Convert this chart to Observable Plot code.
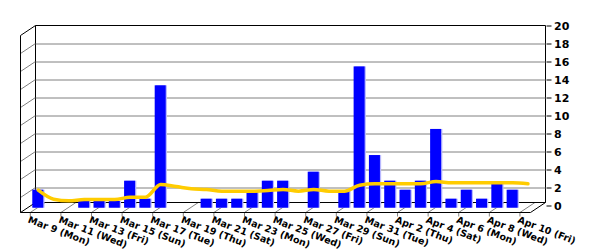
<!DOCTYPE html>
<html><head><meta charset="utf-8">
<script src="https://cdn.jsdelivr.net/npm/d3@7"></script>
<script src="https://cdn.jsdelivr.net/npm/@observablehq/plot@0.6"></script>
<style>body{margin:0;background:#fff}#chart svg{display:block}</style>
</head><body><div id="chart"></div>
<script>
// Days shown (Mar 9 .. Apr 10)
const dates = ["Mar 9","Mar 10","Mar 11","Mar 12","Mar 13","Mar 14","Mar 15","Mar 16","Mar 17","Mar 18","Mar 19",
  "Mar 20","Mar 21","Mar 22","Mar 23","Mar 24","Mar 25","Mar 26","Mar 27","Mar 28","Mar 29","Mar 30","Mar 31",
  "Apr 1","Apr 2","Apr 3","Apr 4","Apr 5","Apr 6","Apr 7","Apr 8","Apr 9","Apr 10"];
// Daily values (bars)
const counts = [2,0,0,0.75,0.75,0.75,3,1,13.6,0,0,
  1,1,1,1.75,3,3,0,4,0,1.9,15.7,5.85,
  3,2,3,8.75,1,2,1,2.7,2,0];
// Running average (yellow line)
const average = [2.0,1.0,0.82,0.97,0.97,0.97,1.22,1.22,2.63,2.41,2.16,
  2.08,1.89,1.89,1.89,1.97,2.08,1.89,2.08,1.89,1.89,2.55,2.71,
  2.71,2.71,2.71,2.97,2.82,2.82,2.82,2.82,2.82,2.71];
// Tick labels
const tickLabels = ["Mar 9 (Mon)","Mar 11 (Wed)","Mar 13 (Fri)","Mar 15 (Sun)","Mar 17 (Tue)","Mar 19 (Thu)",
  "Mar 21 (Sat)","Mar 23 (Mon)","Mar 25 (Wed)","Mar 27 (Fri)","Mar 29 (Sun)","Mar 31 (Tue)","Apr 2 (Thu)",
  "Apr 4 (Sat)","Apr 6 (Mon)","Apr 8 (Wed)","Apr 10 (Fri)"];
const yTicks = [0,2,4,6,8,10,12,14,16,18,20];

const rows = dates.map((d, i) => ({i, date: d, count: counts[i], avg: average[i]}));
const bars = rows.filter(r => r.count > 0);
const ticks = tickLabels.map(label => ({label, i: dates.indexOf(label.split(" (")[0])}));

// 3D offsets (bars/line sit mid-depth in front of the back wall)
const DX = -7.5, DY = 2.2, HALF = 0.36;
const DEPTH_X = 15, DEPTH_Y = 10;

const plot = Plot.plot({
  width: 600, height: 250,
  marginTop: 25.5, marginBottom: 44.5, marginLeft: 35.5, marginRight: 54.5,
  style: {fontFamily: "DejaVu Sans", fontWeight: "bold", fontSize: "11px", background: "#fff", overflow: "visible"},
  x: {type: "linear", domain: [-0.64, 32.69], axis: null},
  y: {domain: [0, 20], axis: "right", ticks: yTicks, tickSize: 5, tickPadding: 3, label: null},
  marks: [
    Plot.ruleY(yTicks.filter(v => v > 0 && v < 20), {stroke: "#808080", strokeWidth: 1}),
    Plot.rectY(bars, {x1: r => r.i - HALF + 0.08, x2: r => r.i + HALF + 0.08, y: "count", fill: "#b8b8ff", dx: DX, dy: DY, inset: 0}),
    Plot.rectY(bars, {x1: r => r.i - HALF, x2: r => r.i + HALF, y: "count", fill: "#0000ff", dx: DX, dy: DY, inset: 0}),
    Plot.line(rows, {x: "i", y: "avg", stroke: "#ffcc00", strokeWidth: 3.5, curve: "monotone-x", dx: DX, dy: DY, strokeLinejoin: "round"}),
    Plot.text(ticks, {x: "i", y: 0, text: "label", rotate: 21, textAnchor: "start", lineAnchor: "top",
      dx: -DEPTH_X - 1, dy: 10, fontSize: 9.5, fill: "#000"})
  ]
});
document.getElementById("chart").appendChild(plot);

// 3D frame: back wall edges, left wall, floor and floor ticks, using the plot's scales
const X = plot.scale("x"), Y = plot.scale("y");
const [x0, x1] = X.range;
const yTop = Y.apply(20);
const floorBack = Y.apply(0) - 3;
const floorFront = floorBack + DEPTH_Y;
const g = d3.select(plot).insert("g", "g").attr("fill", "none");
function seg(ax, ay, bx, by, color) {
  g.append("line").attr("x1", ax).attr("y1", ay).attr("x2", bx).attr("y2", by)
    .attr("stroke", color).attr("stroke-width", 1);
}
// left wall gridline diagonals
yTicks.filter(v => v > 0 && v < 20).forEach(v => {
  const y = Y.apply(v);
  seg(x0, y, x0 - DEPTH_X, y + DEPTH_Y, "#808080");
});
// floor tick diagonals + small ticks
ticks.forEach(t => {
  const xb = X.apply(t.i);
  seg(xb, floorBack, xb - DEPTH_X, floorFront, "#808080");
  seg(xb - DEPTH_X, floorFront, xb - DEPTH_X, floorFront + 4, "#808080");
});
// black edges
seg(x0, yTop, x1, yTop, "#000");
seg(x0, yTop, x0, floorBack, "#000");
seg(x1, yTop, x1, floorBack, "#000");
seg(x0, floorBack, x1, floorBack, "#000");
seg(x0, yTop, x0 - DEPTH_X, yTop + DEPTH_Y, "#000");
seg(x0 - DEPTH_X, yTop + DEPTH_Y, x0 - DEPTH_X, floorFront, "#000");
seg(x0, floorBack, x0 - DEPTH_X, floorFront, "#000");
seg(x0 - DEPTH_X, floorFront, x1 - DEPTH_X, floorFront, "#000");
seg(x1, floorBack, x1 - DEPTH_X, floorFront, "#000");
</script>
</body></html>
